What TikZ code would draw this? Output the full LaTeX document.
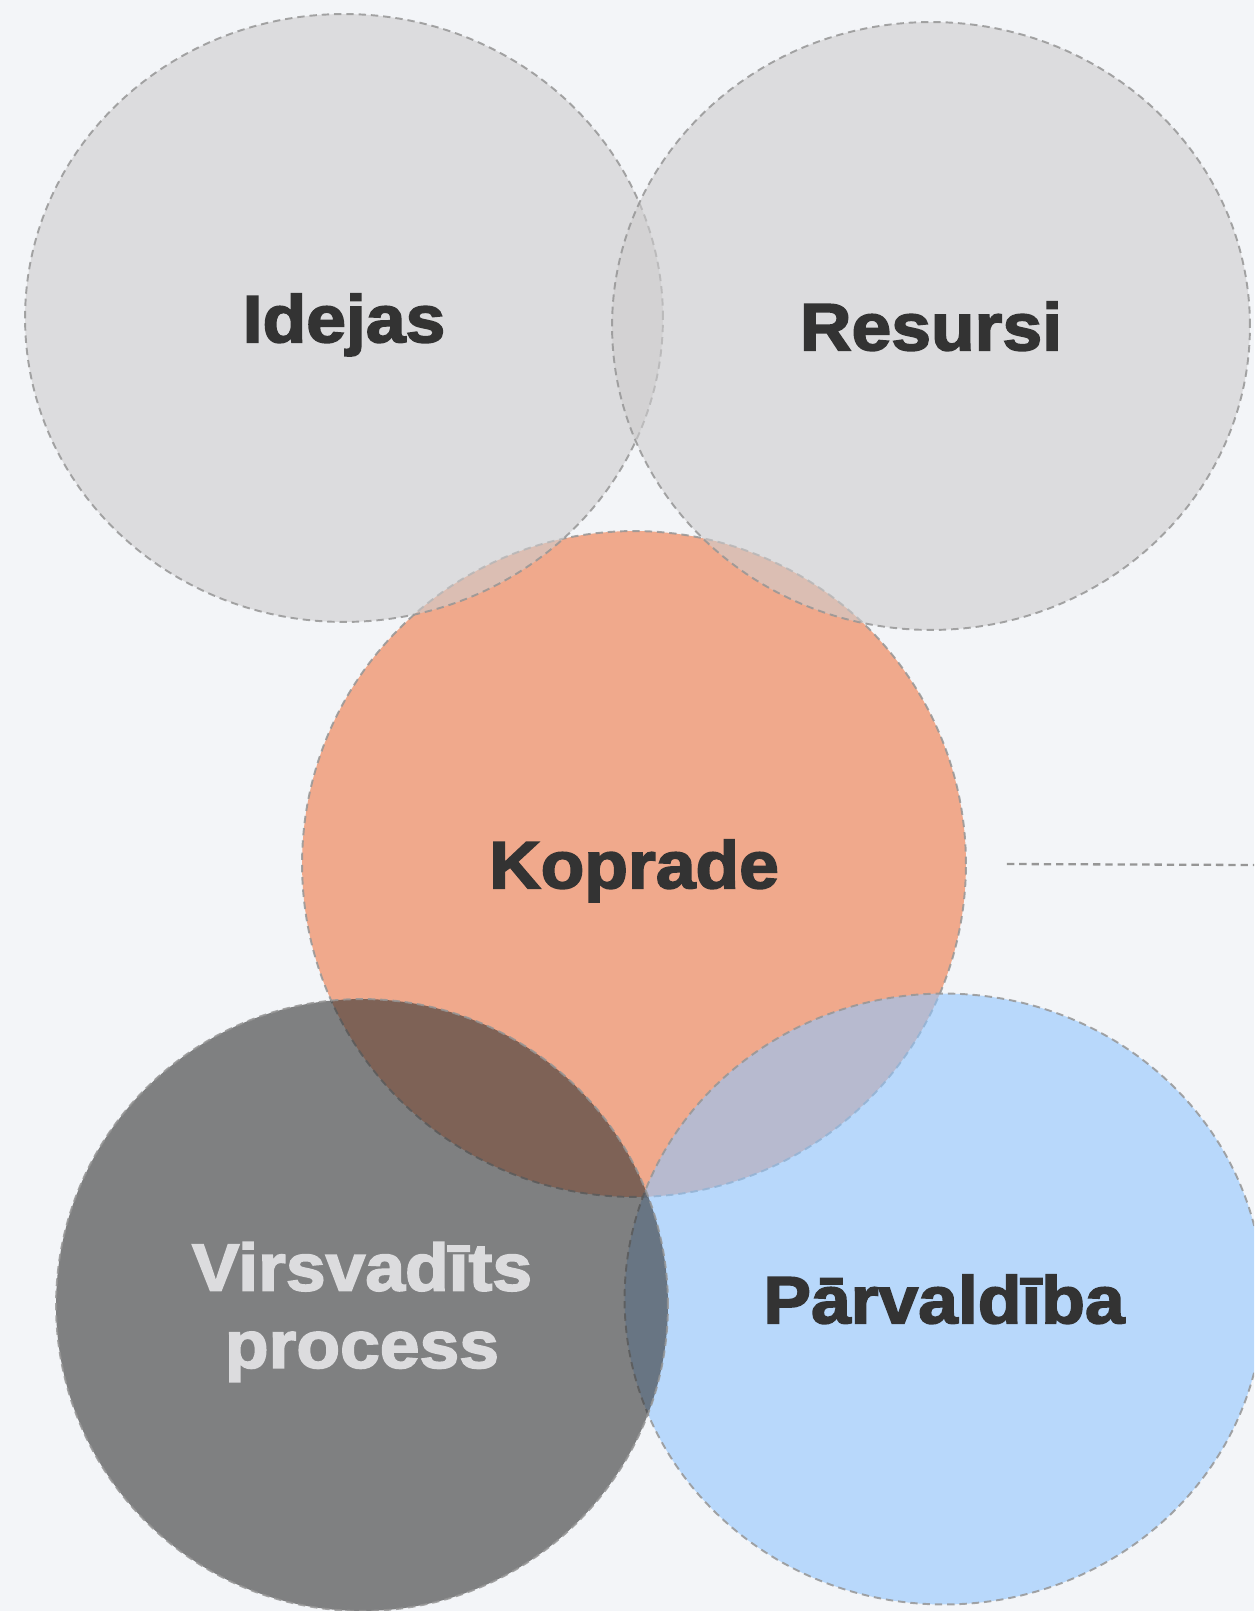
\documentclass[tikz,border=0pt]{standalone}
\usepackage{fontspec}
\newfontfamily\heavyfont[FakeBold=2.5,FakeStretch=1.07]{Liberation Sans}
\usetikzlibrary{shapes.geometric}
\definecolor{bgcol}{RGB}{243,245,248}
\definecolor{ringgray}{RGB}{205,204,205}
\definecolor{kopcol}{RGB}{238,119,68}
\definecolor{procgray}{RGB}{51,51,51}
\definecolor{mgmtblue}{RGB}{146,198,253}
\definecolor{txtdark}{RGB}{51,51,51}
\definecolor{txtlight}{RGB}{220,220,222}
\definecolor{edgecol}{RGB}{150,150,150}
\begin{document}
\begin{tikzpicture}[x=0.02cm,y=-0.02cm,
		venn/.style={ellipse,draw=edgecol,line width=1.1pt,dash pattern=on 4.2pt off 2.8pt,fill opacity=0.6,draw opacity=0.85,text opacity=1,inner sep=0pt,text depth=0pt,align=center,font=\heavyfont\bfseries\fontsize{38}{44}\selectfont}]
		\useasboundingbox (0,0) rectangle (1254,1611);
		\clip (0,0) rectangle (1254,1611);
		\fill[bgcol] (0,0) rectangle (1254,1611);
		\node[venn,fill=kopcol,text=txtdark,minimum width=13.28cm,minimum height=13.32cm] (koprade) at (634,864) {Koprade};
		\node[venn,fill=ringgray,text=txtdark,minimum width=12.76cm,minimum height=12.16cm] (idejas) at (344,318) {Idejas};
		\node[venn,fill=ringgray,text=txtdark,minimum width=12.76cm,minimum height=12.16cm] (resursi) at (931,326) {Resursi};
		\node[venn,fill=mgmtblue,text=txtdark,minimum width=12.78cm,minimum height=12.22cm] (parvaldiba) at (944,1299) {Pārvaldība};
		\node[venn,fill=procgray,text=txtlight,minimum width=12.24cm,minimum height=12.24cm] (process) at (362,1305) {Virsvadīts\\process};
		\coordinate (lnstart) at ([xshift=0.8cm]koprade.east);
		\coordinate (lnend) at (1254,865);
		\draw[edgecol,line width=1.3pt,dash pattern=on 4.2pt off 2.8pt] (lnstart) -- (lnend);
		\end{tikzpicture}
\end{document}
